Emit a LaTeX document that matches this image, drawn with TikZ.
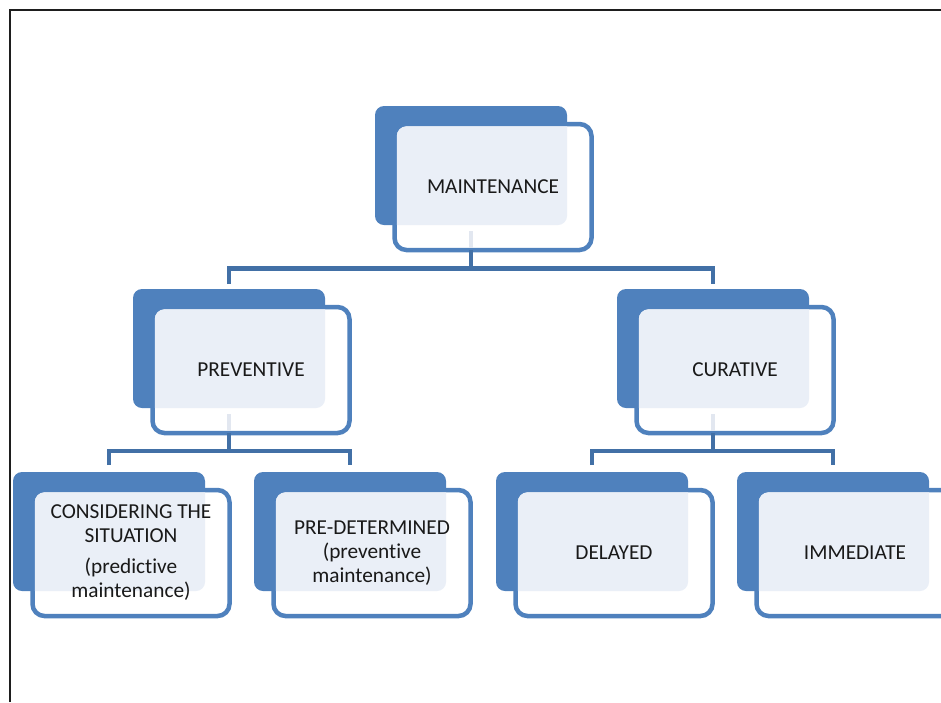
\documentclass[tikz,border=0pt]{standalone}
\usepackage{fontspec}
\setmainfont{Carlito}[Ligatures=NoCommon]
\usetikzlibrary{calc}

\definecolor{boxblue}{RGB}{79,129,189}
\definecolor{connblue}{RGB}{66,112,166}
\definecolor{boxlight}{RGB}{234,239,247}
\definecolor{connpale}{RGB}{226,231,240}
\definecolor{framegray}{RGB}{30,30,30}

\tikzset{
  backbox/.style={fill=boxblue, rounded corners=9pt, minimum width=192pt,
    minimum height=119pt, inner sep=0pt, outer sep=0pt, anchor=north west},
  frontbox/.style={draw=boxblue, line width=4.5pt, fill=white, rounded corners=12pt,
    minimum width=197pt, minimum height=126pt, inner sep=0pt, outer sep=0pt,
    anchor=north west},
  boxtext/.style={align=center, text=black!90, font=\fontsize{21.3}{24}\selectfont},
  conn/.style={draw=connblue, line width=4.5pt},
  connfaint/.style={draw=connpale, line width=4.5pt},
  frameline/.style={draw=framegray, line width=1.5pt},
}

% one unit of the chart: filled back card, outlined front card, light overlap, label
\newcommand\chartunit[4]{%
  \coordinate (#1-tl) at (#2,#3);
  \node[backbox] (#1B) at (#1-tl) {};
  \node[frontbox] (#1O) at ([shift={(19.5,18)}]#1-tl) {};
  \begin{scope}
    \clip[rounded corners=10pt] ($(#1O.north west)+(2.25,2.25)$) rectangle ($(#1O.south east)+(-2.25,-2.25)$);
    \fill[boxlight, rounded corners=9pt] (#1B.north west) rectangle (#1B.south east);
  \end{scope}
  \node[boxtext] (#1) at (#1O.center) {#4};
}

\begin{document}
\begin{tikzpicture}[x=1pt,y=-1pt]
  \useasboundingbox (0,0) rectangle (941,702);
  \clip (0,0) rectangle (941,702);

  % page frame
  \coordinate (fbl) at (10,702);
  \coordinate (ftl) at (10,10);
  \coordinate (ftr) at (941,10);
  \draw[frameline] (fbl) -- (ftl) -- (ftr);

  % cards
  \chartunit{m}{375}{106}{MAINTENANCE}
  \chartunit{p}{133}{289}{PREVENTIVE}
  \chartunit{c}{617}{289}{CURATIVE}
  \chartunit{s}{13}{472}{CONSIDERING THE\\SITUATION\\[7pt](predictive\\maintenance)}
  \chartunit{d}{254}{472}{PRE-DETERMINED\\(preventive\\maintenance)}
  \chartunit{y}{496}{472}{DELAYED}
  \chartunit{i}{737}{472}{IMMEDIATE}

  % faint stubs seen through the front cards
  \foreach \n in {m,p,c}{
    \draw[connfaint] ($(\n B.south)+(0,6)$) -- ($(\n O.south -| \n B.south)+(0,-2.3)$);
  }

  % connectors
  \draw[conn] (mO.south -| mB.south) -- ++(0,18.5) coordinate (mbar);
  \draw[conn] ([yshift=5pt]pB.north) |- (mbar) -| ([yshift=5pt]cB.north);

  \draw[conn] (pO.south -| pB.south) -- ++(0,18) coordinate (pbar);
  \draw[conn] ([yshift=7pt]sB.north) |- (pbar) -| ([yshift=7pt]dB.north);

  \draw[conn] (cO.south -| cB.south) -- ++(0,18) coordinate (cbar);
  \draw[conn] ([yshift=7pt]yB.north) |- (cbar) -| ([yshift=7pt]iB.north);
\end{tikzpicture}
\end{document}
